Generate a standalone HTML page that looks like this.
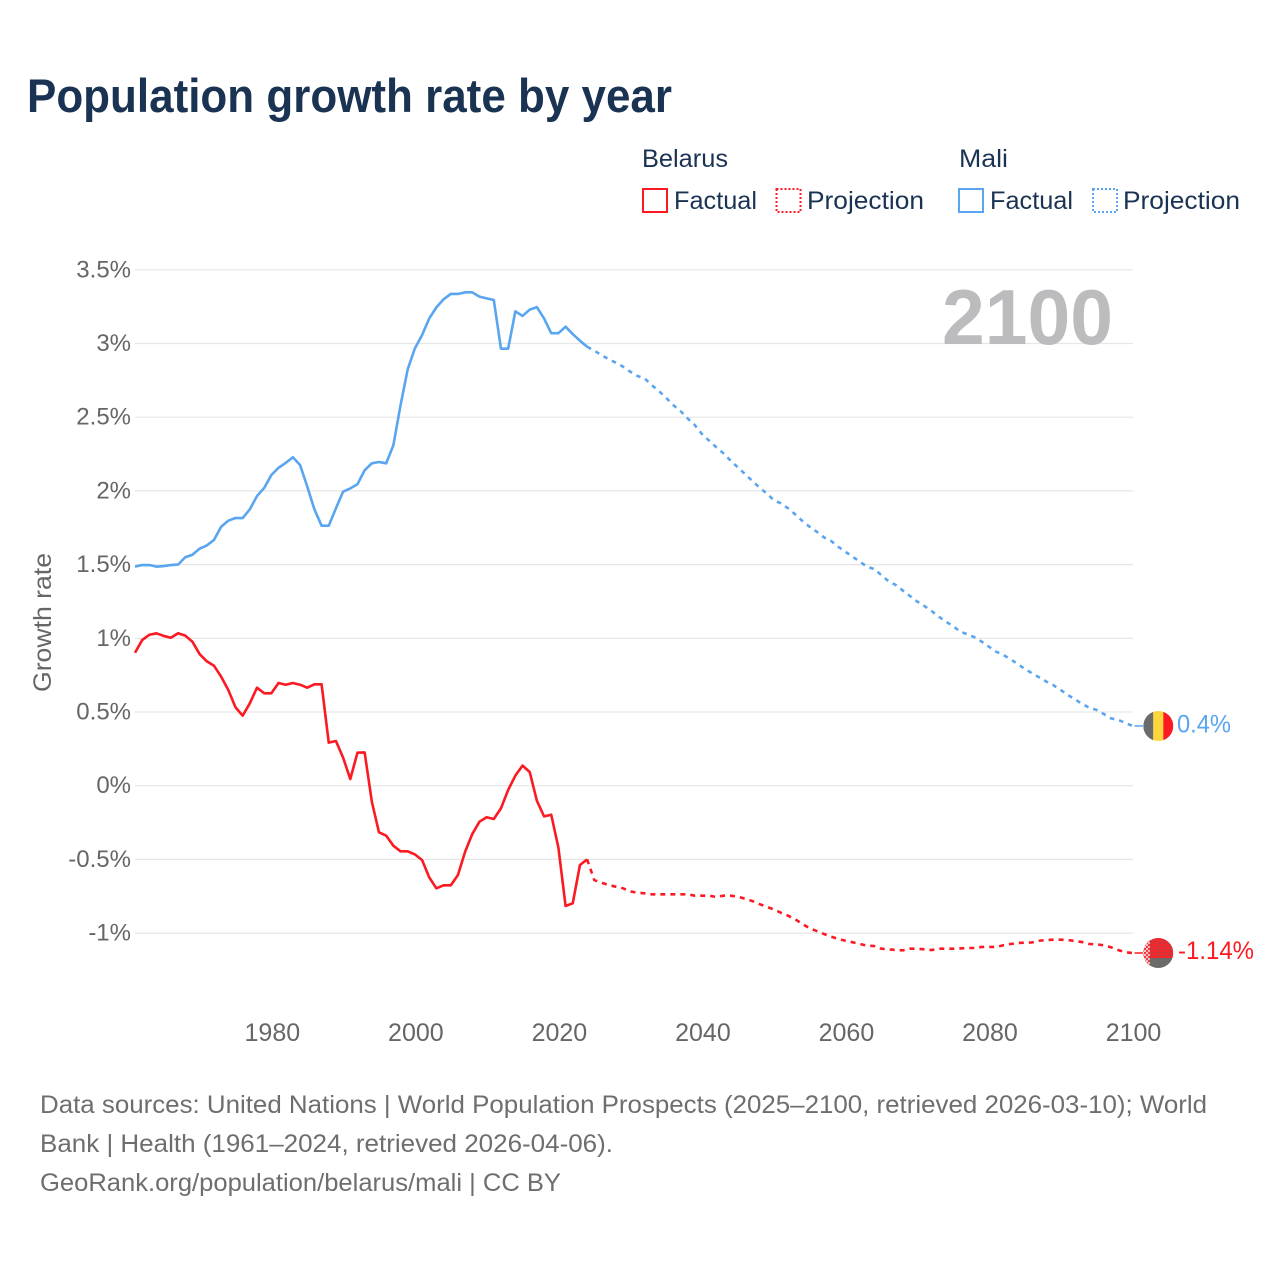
<!DOCTYPE html>
<html lang="en">
<head>
<meta charset="utf-8">
<title>Population growth rate by year</title>
<style>
html,body{margin:0;padding:0;background:#fff;}
svg{display:block;font-family:"Liberation Sans",sans-serif;}
</style>
</head>
<body>
<svg id="chart" width="1280" height="1280" viewBox="0 0 1280 1280" xmlns="http://www.w3.org/2000/svg">
  <defs>
    <clipPath id="mali-clip"><circle id="mali-clip-circle" cx="1158.3" cy="726" r="15"></circle></clipPath>
    <clipPath id="belarus-clip"><circle id="belarus-clip-circle" cx="1158.3" cy="953" r="15"></circle></clipPath>
    <pattern id="dots-gray" width="3" height="3" patternUnits="userSpaceOnUse"><rect x="1" y="1" width="1.2" height="1.2" fill="#8c5a5c"></rect></pattern>
    <pattern id="hoist" width="4" height="4" patternUnits="userSpaceOnUse"><rect width="4" height="4" fill="#f6c9ca"></rect><rect x="0" y="0" width="2" height="2" fill="#f0383e"></rect><rect x="2" y="2" width="2" height="2" fill="#f0383e"></rect></pattern>
  </defs>
  <rect width="1280" height="1280" fill="#fff"></rect>
  <text x="27" y="112" font-size="47" font-weight="700" fill="#1a3352" textLength="645" lengthAdjust="spacingAndGlyphs">Population growth rate by year</text>

  <g font-size="25" fill="#1a3352">
    <text x="642" y="167" textLength="86" lengthAdjust="spacingAndGlyphs">Belarus</text>
    <rect x="643" y="189" width="24" height="23" fill="none" stroke="#fb1a22" stroke-width="2"></rect>
    <text x="674" y="209" textLength="83" lengthAdjust="spacingAndGlyphs">Factual</text>
    <rect x="776.5" y="189" width="24" height="23" fill="none" stroke="#fb1a22" stroke-width="2" stroke-dasharray="2 2"></rect>
    <text x="807" y="209" textLength="117" lengthAdjust="spacingAndGlyphs">Projection</text>
    <text x="959" y="167" textLength="49" lengthAdjust="spacingAndGlyphs">Mali</text>
    <rect x="959" y="189" width="24" height="23" fill="none" stroke="#5aa5f0" stroke-width="2"></rect>
    <text x="990" y="209" textLength="83" lengthAdjust="spacingAndGlyphs">Factual</text>
    <rect x="1093" y="189" width="24" height="23" fill="none" stroke="#5aa5f0" stroke-width="2" stroke-dasharray="2 2"></rect>
    <text x="1123" y="209" textLength="117" lengthAdjust="spacingAndGlyphs">Projection</text>
  </g>

  <g id="grid"></g>
  <g id="y-ticks"></g>
  <g id="x-ticks"></g>
  <text transform="translate(51,622.5) rotate(-90)" text-anchor="middle" font-size="25" fill="#666" textLength="139" lengthAdjust="spacingAndGlyphs">Growth rate</text>
  <text x="942" y="344" font-size="78" font-weight="700" fill="#bcbcbe" textLength="171" lengthAdjust="spacingAndGlyphs">2100</text>
  <g id="series"></g>

  <g id="mali-flag" clip-path="url(#mali-clip)"></g>
  <g id="belarus-flag" clip-path="url(#belarus-clip)"></g>
  <g id="end-labels"></g>

  <g font-size="25" fill="#6e6e6e">
    <text x="40" y="1113" textLength="1167" lengthAdjust="spacingAndGlyphs">Data sources: United Nations | World Population Prospects (2025–2100, retrieved 2026-03-10); World</text>
    <text x="40" y="1152" textLength="573" lengthAdjust="spacingAndGlyphs">Bank | Health (1961–2024, retrieved 2026-04-06).</text>
    <text x="40" y="1191" textLength="521" lengthAdjust="spacingAndGlyphs">GeoRank.org/population/belarus/mali | CC BY</text>
  </g>
</svg>
<script>
// Chart data
const factualStartYear = 1961;
const projectionStartYear = 2024;
const yTickValues = [3.5, 3, 2.5, 2, 1.5, 1, 0.5, 0, -0.5, -1];
const yTickLabels = ['3.5%', '3%', '2.5%', '2%', '1.5%', '1%', '0.5%', '0%', '-0.5%', '-1%'];
const xTickYears = [1980, 2000, 2020, 2040, 2060, 2080, 2100];
const xTickLabels = ['1980', '2000', '2020', '2040', '2060', '2080', '2100'];
const endLabelMali = '0.4%';
const endLabelBelarus = '-1.14%';

const maliFactual = [1.486,1.497,1.497,1.486,1.49,1.497,1.5,1.55,1.567,1.608,1.63,1.667,1.757,1.798,1.816,1.816,1.875,1.965,2.02,2.108,2.157,2.19,2.228,2.176,2.03,1.875,1.764,1.764,1.882,1.995,2.017,2.045,2.14,2.187,2.196,2.187,2.31,2.58,2.825,2.967,3.057,3.17,3.245,3.3,3.336,3.336,3.347,3.347,3.318,3.306,3.295,2.965,2.965,3.218,3.187,3.23,3.247,3.17,3.07,3.07,3.114,3.064,3.019,2.978];
const maliProjection = [2.978,2.951,2.922,2.893,2.87,2.843,2.809,2.78,2.764,2.718,2.678,2.632,2.583,2.542,2.492,2.447,2.386,2.341,2.296,2.255,2.205,2.16,2.115,2.069,2.024,1.984,1.938,1.916,1.882,1.841,1.796,1.757,1.723,1.685,1.66,1.621,1.587,1.553,1.52,1.486,1.47,1.429,1.387,1.362,1.324,1.287,1.249,1.219,1.185,1.147,1.113,1.083,1.045,1.027,1.007,0.977,0.943,0.909,0.887,0.858,0.826,0.792,0.763,0.735,0.706,0.681,0.649,0.615,0.586,0.554,0.529,0.514,0.486,0.457,0.446,0.427,0.405];
const belarusFactual = [0.902,0.988,1.024,1.034,1.016,1.004,1.034,1.018,0.977,0.893,0.844,0.814,0.74,0.649,0.532,0.475,0.559,0.665,0.627,0.627,0.697,0.685,0.697,0.685,0.665,0.688,0.688,0.292,0.303,0.19,0.045,0.224,0.226,-0.108,-0.316,-0.339,-0.407,-0.445,-0.445,-0.466,-0.504,-0.622,-0.696,-0.676,-0.676,-0.606,-0.448,-0.328,-0.244,-0.214,-0.226,-0.153,-0.029,0.068,0.136,0.093,-0.102,-0.208,-0.197,-0.42,-0.816,-0.798,-0.538,-0.5];
const belarusProjection = [-0.5,-0.64,-0.658,-0.674,-0.685,-0.696,-0.717,-0.726,-0.73,-0.737,-0.737,-0.737,-0.737,-0.737,-0.737,-0.746,-0.746,-0.746,-0.755,-0.746,-0.746,-0.753,-0.767,-0.782,-0.803,-0.821,-0.839,-0.862,-0.882,-0.906,-0.938,-0.967,-0.986,-1.006,-1.024,-1.04,-1.052,-1.062,-1.074,-1.085,-1.088,-1.106,-1.11,-1.115,-1.117,-1.106,-1.106,-1.11,-1.115,-1.106,-1.106,-1.106,-1.104,-1.101,-1.101,-1.094,-1.094,-1.094,-1.083,-1.074,-1.067,-1.065,-1.063,-1.052,-1.047,-1.045,-1.045,-1.047,-1.054,-1.061,-1.074,-1.076,-1.083,-1.096,-1.115,-1.13,-1.135];

// Axis functions
const xDomain = [1961, 2100];
const xRange = [135, 1132.5];
const yDomain = [0, 3.5];
const yRange = [785.7, 269.8];
function xScale(year) {
  return xRange[0] + (year - xDomain[0]) * (xRange[1] - xRange[0]) / (xDomain[1] - xDomain[0]);
}
function yScale(value) {
  return yRange[0] + (value - yDomain[0]) * (yRange[1] - yRange[0]) / (yDomain[1] - yDomain[0]);
}

const svgNS = 'http://www.w3.org/2000/svg';
function make(tag, parent, props) {
  const node = document.createElementNS(svgNS, tag);
  for (const key in props) node.setAttribute(key, props[key]);
  parent.appendChild(node);
  return node;
}
function linePath(values, startYear) {
  return values.map(function (v, i) {
    return (i ? 'L' : 'M') + xScale(startYear + i).toFixed(2) + ' ' + yScale(v).toFixed(2);
  }).join(' ');
}

const gridGroup = document.getElementById('grid');
const yTickGroup = document.getElementById('y-ticks');
const xTickGroup = document.getElementById('x-ticks');
const seriesGroup = document.getElementById('series');
const labelGroup = document.getElementById('end-labels');

yTickValues.forEach(function (v, i) {
  const y = yScale(v);
  const rule = make('line', gridGroup, {x1: 135, x2: 1133, y1: y, y2: y, stroke: '#e6e6e6', 'stroke-width': 1.2});
  
  
  const label = make('text', yTickGroup, {x: 131, y: y + 7.5, 'text-anchor': 'end', 'font-size': 24, fill: '#666'});
  
  
  label.textContent = yTickLabels[i];
});

xTickYears.forEach(function (year, i) {
  const label = make('text', xTickGroup, {x: xScale(year) + 1, y: 1041, 'text-anchor': 'middle', 'font-size': 25, fill: '#666'});
  
  
  label.textContent = xTickLabels[i];
});

const colorMali = '#5aa5f0';
const colorBelarus = '#fb1a22';
const lineBase = {fill: 'none', 'stroke-width': 2.6, 'stroke-linejoin': 'round'};

const maliFactualLine = make('path', seriesGroup, Object.assign({d: linePath(maliFactual, factualStartYear), stroke: colorMali}, lineBase));



const maliProjectionLine = make('path', seriesGroup, Object.assign({d: linePath(maliProjection, projectionStartYear), stroke: colorMali, 'stroke-dasharray': '4.5 5'}, lineBase));



const belarusFactualLine = make('path', seriesGroup, Object.assign({d: linePath(belarusFactual, factualStartYear), stroke: colorBelarus}, lineBase));



const belarusProjectionLine = make('path', seriesGroup, Object.assign({d: linePath(belarusProjection, projectionStartYear), stroke: colorBelarus, 'stroke-dasharray': '5 5'}, lineBase));



const maliEndY = yScale(maliProjection[maliProjection.length - 1]);
const belarusEndY = yScale(belarusProjection[belarusProjection.length - 1]);

const maliConnector = make('line', seriesGroup, {x1: xScale(2100) + 2, x2: 1143, y1: maliEndY, y2: maliEndY, stroke: colorMali, 'stroke-width': 1.5});



const belarusConnector = make('line', seriesGroup, {x1: xScale(2100) + 2, x2: 1143, y1: belarusEndY, y2: belarusEndY, stroke: colorBelarus, 'stroke-width': 1.5});



// Flag markers follow the final values
const flagX = 1143.3;
document.getElementById('mali-clip-circle').setAttribute('cy', maliEndY);
document.getElementById('belarus-clip-circle').setAttribute('cy', belarusEndY);

const maliGroup = document.getElementById('mali-flag');
const maliStripes = ['#6b6b69', '#fdd63e', '#fb1a22'];
maliStripes.forEach(function (fill, i) {
  const stripe = make('rect', maliGroup, {x: flagX + i * 10, y: maliEndY - 15, width: 10, height: 30, fill: fill});
  
  
});

const belarusGroup = document.getElementById('belarus-flag');
const belarusRed = make('rect', belarusGroup, {x: flagX, y: belarusEndY - 15, width: 30, height: 20, fill: '#f4262c'});


const belarusDots = make('rect', belarusGroup, {x: flagX, y: belarusEndY - 15, width: 30, height: 20, fill: 'url(#dots-gray)'});


const belarusGray = make('rect', belarusGroup, {x: flagX, y: belarusEndY + 5, width: 30, height: 10, fill: '#6b6b69'});


const belarusHoist = make('rect', belarusGroup, {x: flagX, y: belarusEndY - 15, width: 6.5, height: 30, fill: 'url(#hoist)'});



const maliLabel = make('text', labelGroup, {x: 1177, y: maliEndY + 6.5, 'font-size': 25, fill: colorMali, textLength: 54, lengthAdjust: 'spacingAndGlyphs'});


maliLabel.textContent = endLabelMali;

const belarusLabel = make('text', labelGroup, {x: 1178, y: belarusEndY + 6, 'font-size': 25, fill: colorBelarus, textLength: 76, lengthAdjust: 'spacingAndGlyphs'});


belarusLabel.textContent = endLabelBelarus;
</script>
</body>
</html>
